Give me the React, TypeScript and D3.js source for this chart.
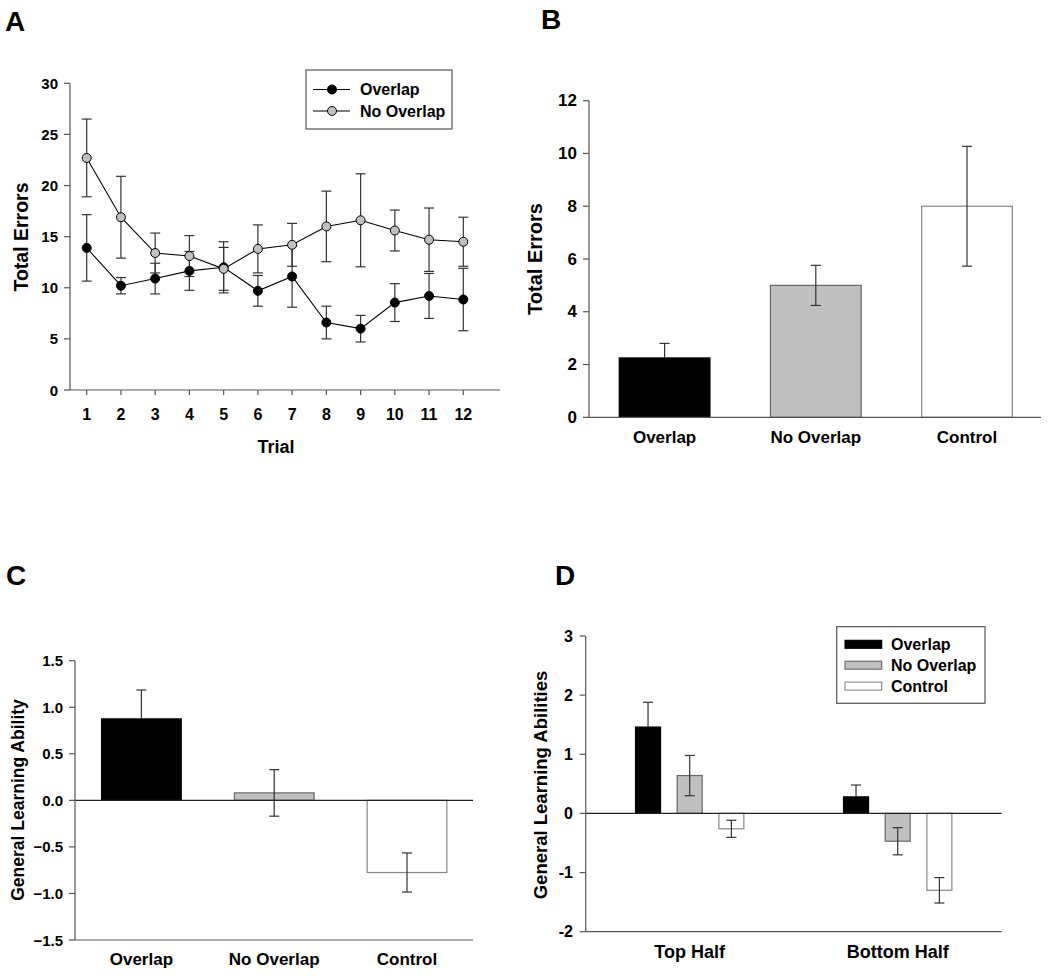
import React from "react";
import * as d3 from "d3";

// ---------- Data ----------
const trials = [1, 2, 3, 4, 5, 6, 7, 8, 9, 10, 11, 12];
const overlapErrors = [13.9, 10.2, 10.9, 11.65, 12.0, 9.7, 11.1, 6.6, 6.0, 8.55, 9.2, 8.85];
const overlapSE = [3.25, 0.8, 1.5, 1.9, 2.5, 1.5, 3.0, 1.6, 1.3, 1.85, 2.2, 3.05];
const noOverlapErrors = [22.7, 16.9, 13.4, 13.1, 11.85, 13.8, 14.2, 16.0, 16.6, 15.6, 14.7, 14.5];
const noOverlapSE = [3.8, 4.0, 1.95, 2.0, 2.1, 2.35, 2.1, 3.45, 4.55, 2.0, 3.1, 2.4];

const groups = ["Overlap", "No Overlap", "Control"];
const totalErrors = [2.25, 5.0, 8.0];
const totalErrorsSE = [0.55, 0.76, 2.27];

const learningAbility = [0.875, 0.08, -0.775];
const learningAbilitySE = [0.31, 0.25, 0.21];

const halves = ["Top Half", "Bottom Half"];
const topHalfValues = [1.46, 0.64, -0.26];
const topHalfSE = [0.42, 0.34, 0.145];
const bottomHalfValues = [0.28, -0.47, -1.3];
const bottomHalfSE = [0.2, 0.23, 0.215];

const yTicksA = [0, 5, 10, 15, 20, 25, 30];
const yTicksB = [0, 2, 4, 6, 8, 10, 12];
const yTicksC = [-1.5, -1.0, -0.5, 0.0, 0.5, 1.0, 1.5];
const yTicksD = [-2, -1, 0, 1, 2, 3];

// ---------- Styles ----------
const FONT = "'Liberation Sans', Arial, Helvetica, sans-serif";
const AXIS = "#555";
const ERR = "#333";
const fills = ["#000000", "#c0c0c0", "#ffffff"];
const strokes = ["#000000", "#666666", "#888888"];

function ErrorBar({ x, y1, y2, cap = 10 }: { x: number; y1: number; y2: number; cap?: number }) {
  return (
    <g stroke={ERR} strokeWidth={1.2}>
      <line x1={x} x2={x} y1={y1} y2={y2} />
      <line x1={x - cap / 2} x2={x + cap / 2} y1={y1} y2={y1} />
      <line x1={x - cap / 2} x2={x + cap / 2} y1={y2} y2={y2} />
    </g>
  );
}

function YAxis({ scale, ticks, x, fmt, labelX, fontSize = 15 }: any) {
  const [r0, r1] = scale.range();
  return (
    <g>
      <line x1={x} x2={x} y1={Math.min(r0, r1)} y2={Math.max(r0, r1)} stroke={AXIS} strokeWidth={1.2} />
      {ticks.map((t: number) => (
        <g key={t}>
          <line x1={x - 6} x2={x} y1={scale(t)} y2={scale(t)} stroke={AXIS} strokeWidth={1.2} />
          <text x={labelX} y={scale(t)} textAnchor="end" dominantBaseline="central" fontSize={fontSize} fontWeight="bold" fontFamily={FONT}>
            {fmt ? fmt(t) : t}
          </text>
        </g>
      ))}
    </g>
  );
}

function YTitle({ x, y, text, size }: { x: number; y: number; text: string; size: number }) {
  return (
    <text transform={`translate(${x},${y}) rotate(-90)`} textAnchor="middle" dominantBaseline="central" fontSize={size} fontWeight="bold" fontFamily={FONT}>
      {text}
    </text>
  );
}

function PanelLetter({ x, y, t }: { x: number; y: number; t: string }) {
  return (
    <text x={x} y={y} fontSize={28} fontWeight="bold" fontFamily={FONT}>
      {t}
    </text>
  );
}

function PanelA() {
  const x = d3.scaleLinear().domain([1, 12]).range([86.7, 463.3]);
  const y = d3.scaleLinear().domain([0, 30]).range([390, 83.3]);
  const line = d3.line<number>().x((_, i) => x(trials[i])).y((d) => y(d));
  const series = [
    { name: "Overlap", vals: overlapErrors, se: overlapSE, fill: "#000" },
    { name: "No Overlap", vals: noOverlapErrors, se: noOverlapSE, fill: "#c0c0c0" },
  ];
  return (
    <g>
      <PanelLetter x={5} y={31} t="A" />
      <YAxis scale={y} ticks={yTicksA} x={70} labelX={58} fontSize={15} />
      <line x1={70} x2={500} y1={390} y2={390} stroke={AXIS} strokeWidth={1.2} />
      {trials.map((t) => (
        <g key={t}>
          <line x1={x(t)} x2={x(t)} y1={390} y2={395} stroke={AXIS} strokeWidth={1.2} />
          <text x={x(t)} y={414} textAnchor="middle" dominantBaseline="central" fontSize={16} fontWeight="bold" fontFamily={FONT}>
            {t}
          </text>
        </g>
      ))}
      <text x={276} y={453} textAnchor="middle" fontSize={18} fontWeight="bold" fontFamily={FONT}>
        Trial
      </text>
      <YTitle x={21} y={237} text="Total Errors" size={19.5} />
      {series.map((s) =>
        s.vals.map((v, i) => (
          <ErrorBar key={s.name + i} x={x(trials[i])} y1={y(v + s.se[i])} y2={y(v - s.se[i])} cap={10} />
        ))
      )}
      {series.map((s) => (
        <path key={s.name} d={line(s.vals) || ""} fill="none" stroke="#000" strokeWidth={1.1} />
      ))}
      {series.map((s) =>
        s.vals.map((v, i) => (
          <circle key={s.name + "c" + i} cx={x(trials[i])} cy={y(v)} r={4.5} fill={s.fill} stroke="#000" strokeWidth={1} />
        ))
      )}
      {/* legend */}
      <rect x={306} y={70} width={146} height={59} fill="#fff" stroke={AXIS} strokeWidth={1.2} />
      {series.map((s, i) => (
        <g key={s.name} transform={`translate(0,${89.5 + i * 21.5})`}>
          <line x1={313} x2={350} y1={0} y2={0} stroke="#000" strokeWidth={1.1} />
          <circle cx={332} cy={0} r={4.5} fill={s.fill} stroke="#000" />
          <text x={360} y={0} dominantBaseline="central" fontSize={16} fontWeight="bold" fontFamily={FONT}>
            {s.name}
          </text>
        </g>
      ))}
    </g>
  );
}

function PanelB() {
  const x = d3.scaleBand<string>().domain(groups).range([589, 1042.6]).paddingInner(0.4).paddingOuter(0.2);
  const y = d3.scaleLinear().domain([0, 12]).range([417.3, 100.7]);
  return (
    <g>
      <PanelLetter x={541} y={29} t="B" />
      {groups.map((g, i) => (
        <rect key={g} x={x(g)} y={y(totalErrors[i])} width={x.bandwidth()} height={y(0) - y(totalErrors[i])} fill={fills[i]} stroke={strokes[i]} strokeWidth={1.2} />
      ))}
      {groups.map((g, i) => {
        const cx = (x(g) as number) + x.bandwidth() / 2;
        return i === 0 ? (
          <g key={g} stroke={ERR} strokeWidth={1.2}>
            <line x1={cx} x2={cx} y1={y(totalErrors[i] + totalErrorsSE[i])} y2={y(totalErrors[i])} />
            <line x1={cx - 5} x2={cx + 5} y1={y(totalErrors[i] + totalErrorsSE[i])} y2={y(totalErrors[i] + totalErrorsSE[i])} />
          </g>
        ) : (
          <ErrorBar key={g} x={cx} y1={y(totalErrors[i] + totalErrorsSE[i])} y2={y(totalErrors[i] - totalErrorsSE[i])} cap={10} />
        );
      })}
      <YAxis scale={y} ticks={yTicksB} x={589} labelX={577} fontSize={17} />
      <line x1={589} x2={1041} y1={417.3} y2={417.3} stroke={AXIS} strokeWidth={1.2} />
      {groups.map((g) => (
        <text key={g} x={(x(g) as number) + x.bandwidth() / 2} y={437} textAnchor="middle" dominantBaseline="central" fontSize={17} fontWeight="bold" fontFamily={FONT}>
          {g}
        </text>
      ))}
      <YTitle x={535} y={259} text="Total Errors" size={20} />
    </g>
  );
}

function PanelC() {
  const x = d3.scaleBand<string>().domain(groups).range([75, 473.4]).paddingInner(0.4).paddingOuter(0.2);
  const y = d3.scaleLinear().domain([-1.5, 1.5]).range([940, 660.7]);
  return (
    <g>
      <PanelLetter x={6} y={585} t="C" />
      {groups.map((g, i) => {
        const v = learningAbility[i];
        return (
          <rect key={g} x={x(g)} y={y(Math.max(0, v))} width={x.bandwidth()} height={Math.abs(y(v) - y(0))} fill={fills[i]} stroke={strokes[i]} strokeWidth={1.2} />
        );
      })}
      {groups.map((g, i) => {
        const cx = (x(g) as number) + x.bandwidth() / 2;
        const v = learningAbility[i];
        const se = learningAbilitySE[i];
        return i === 0 ? (
          <g key={g} stroke={ERR} strokeWidth={1.2}>
            <line x1={cx} x2={cx} y1={y(v + se)} y2={y(v)} />
            <line x1={cx - 5} x2={cx + 5} y1={y(v + se)} y2={y(v + se)} />
          </g>
        ) : (
          <ErrorBar key={g} x={cx} y1={y(v + se)} y2={y(v - se)} cap={10} />
        );
      })}
      <line x1={75} x2={473} y1={y(0)} y2={y(0)} stroke="#222" strokeWidth={1.1} />
      <YAxis scale={y} ticks={yTicksC} x={75} labelX={63} fmt={(t: number) => d3.format(".1f")(t)} fontSize={15} />
      <line x1={75} x2={473} y1={940} y2={940} stroke={AXIS} strokeWidth={1.2} />
      {groups.map((g) => (
        <text key={g} x={(x(g) as number) + x.bandwidth() / 2} y={959} textAnchor="middle" dominantBaseline="central" fontSize={17} fontWeight="bold" fontFamily={FONT}>
          {g}
        </text>
      ))}
      <YTitle x={18} y={800} text="General Learning Ability" size={17.5} />
    </g>
  );
}

function PanelD() {
  const x0 = d3.scaleBand<string>().domain(halves).range([585.7, 1001.7]);
  const x1 = d3.scaleBand<string>().domain(groups).range([-62.5, 62.5]).paddingInner(0.4).paddingOuter(0.2);
  const y = d3.scaleLinear().domain([-2, 3]).range([931.7, 636]);
  const vals = [topHalfValues, bottomHalfValues];
  const ses = [topHalfSE, bottomHalfSE];
  return (
    <g>
      <PanelLetter x={555} y={585} t="D" />
      {halves.map((h, hi) => {
        const c = (x0(h) as number) + x0.bandwidth() / 2;
        return (
          <g key={h}>
            {groups.map((g, i) => {
              const v = vals[hi][i];
              return (
                <rect key={g} x={c + (x1(g) as number)} y={y(Math.max(0, v))} width={x1.bandwidth()} height={Math.abs(y(v) - y(0))} fill={fills[i]} stroke={strokes[i]} strokeWidth={1.2} />
              );
            })}
            {groups.map((g, i) => {
              const v = vals[hi][i];
              const se = ses[hi][i];
              const cx = c + (x1(g) as number) + x1.bandwidth() / 2;
              return i === 0 ? (
                <g key={g} stroke={ERR} strokeWidth={1.2}>
                  <line x1={cx} x2={cx} y1={y(v + se)} y2={y(v)} />
                  <line x1={cx - 5} x2={cx + 5} y1={y(v + se)} y2={y(v + se)} />
                </g>
              ) : (
                <ErrorBar key={g} x={cx} y1={y(v + se)} y2={y(v - se)} cap={10} />
              );
            })}
            <text x={c} y={952} textAnchor="middle" dominantBaseline="central" fontSize={18} fontWeight="bold" fontFamily={FONT}>
              {h}
            </text>
          </g>
        );
      })}
      <line x1={585.7} x2={1001.7} y1={y(0)} y2={y(0)} stroke="#222" strokeWidth={1.1} />
      <YAxis scale={y} ticks={yTicksD} x={585.7} labelX={573} fontSize={16} />
      <line x1={585.7} x2={1001.7} y1={931.7} y2={931.7} stroke={AXIS} strokeWidth={1.2} />
      <YTitle x={540} y={785} text="General Learning Abilities" size={18.5} />
      {/* legend */}
      <rect x={836.7} y={626.7} width={148.3} height={76.6} fill="#fff" stroke={AXIS} strokeWidth={1.2} />
      {groups.map((g, i) => (
        <g key={g} transform={`translate(0,${644.3 + i * 20.9})`}>
          <rect x={845} y={-4} width={36.7} height={8} fill={fills[i]} stroke={strokes[i]} strokeWidth={1.1} />
          <text x={891} y={0} dominantBaseline="central" fontSize={16} fontWeight="bold" fontFamily={FONT}>
            {g}
          </text>
        </g>
      ))}
    </g>
  );
}

export default function App() {
  return (
    <svg width={1050} height={980} style={{ position: "absolute", left: 0, top: 0, background: "#fff" }} fontFamily={FONT}>
      <rect width={1050} height={980} fill="#fff" />
      <PanelA />
      <PanelB />
      <PanelC />
      <PanelD />
    </svg>
  );
}
